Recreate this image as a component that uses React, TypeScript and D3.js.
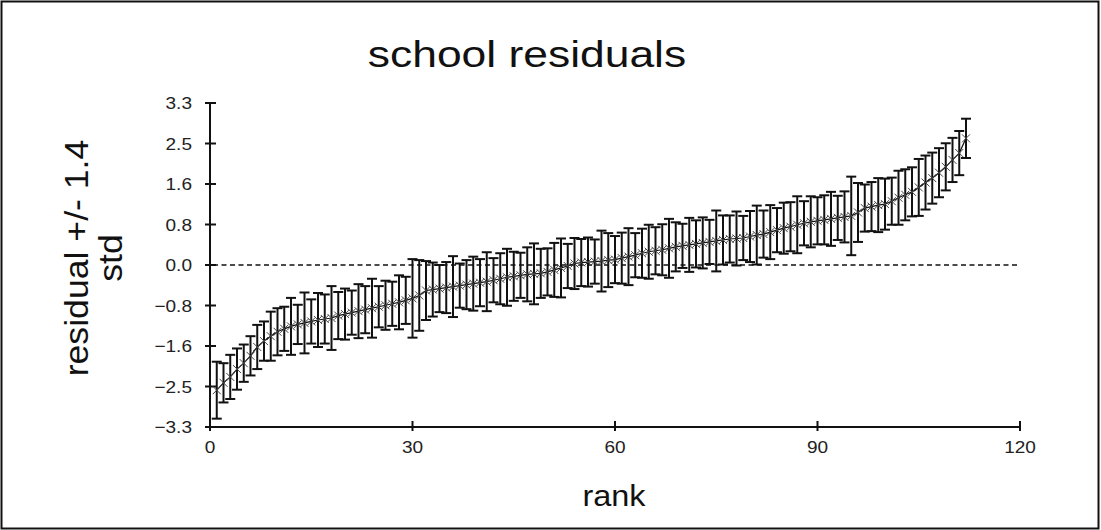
import React, { useEffect, useRef } from 'react';
import * as d3 from 'd3';

// residual per school, in rank order (rank 1..112)
const residuals: number[] = [
  -2.55, -2.40, -2.28, -2.12, -2.00, -1.85, -1.67, -1.55, -1.45, -1.36,
  -1.30, -1.25, -1.21, -1.18, -1.15, -1.12, -1.10, -1.08, -1.03, -1.00,
  -0.97, -0.94, -0.91, -0.88, -0.85, -0.82, -0.79, -0.76, -0.72, -0.68,
  -0.62, -0.52, -0.50, -0.48, -0.46, -0.44, -0.42, -0.40, -0.38, -0.36,
  -0.34, -0.31, -0.28, -0.25, -0.23, -0.21, -0.19, -0.18, -0.17, -0.14,
  -0.10, -0.06, -0.02, 0.03, 0.05, 0.06, 0.07, 0.08, 0.10, 0.11,
  0.14, 0.17, 0.20, 0.24, 0.27, 0.29, 0.31, 0.34, 0.37, 0.39,
  0.41, 0.43, 0.45, 0.47, 0.49, 0.51, 0.53, 0.54, 0.55, 0.58,
  0.61, 0.63, 0.67, 0.71, 0.75, 0.78, 0.82, 0.85, 0.88, 0.90,
  0.92, 0.94, 0.96, 0.98, 1.00, 1.07, 1.16, 1.19, 1.22, 1.24,
  1.30, 1.37, 1.43, 1.49, 1.58, 1.68, 1.77, 1.88, 2.00, 2.14, 2.28, 2.58,
];

// +/- 1.4 std half widths
const halfWidths: number[] = [
  0.58, 0.40, 0.45, 0.42, 0.38, 0.40, 0.45, 0.40, 0.50, 0.48,
  0.45, 0.58, 0.40, 0.62, 0.45, 0.55, 0.50, 0.65, 0.48, 0.52,
  0.45, 0.55, 0.48, 0.60, 0.42, 0.50, 0.45, 0.55, 0.48, 0.80,
  0.72, 0.60, 0.55, 0.48, 0.52, 0.62, 0.45, 0.50, 0.55, 0.48,
  0.60, 0.45, 0.52, 0.58, 0.50, 0.46, 0.55, 0.62, 0.50, 0.48,
  0.55, 0.60, 0.45, 0.52, 0.48, 0.50, 0.45, 0.62, 0.55, 0.48,
  0.52, 0.58, 0.45, 0.50, 0.55, 0.48, 0.52, 0.60, 0.50, 0.45,
  0.55, 0.48, 0.52, 0.45, 0.62, 0.50, 0.48, 0.55, 0.45, 0.52,
  0.60, 0.48, 0.55, 0.45, 0.52, 0.50, 0.58, 0.45, 0.52, 0.48,
  0.50, 0.55, 0.45, 0.52, 0.80, 0.60, 0.48, 0.50, 0.55, 0.52,
  0.48, 0.55, 0.52, 0.50, 0.58, 0.55, 0.52, 0.50, 0.48, 0.45, 0.45, 0.40,
];

const xTicks: number[] = [0, 30, 60, 90, 120];
const yTicks: number[] = [-3.3, -2.475, -1.65, -0.825, 0, 0.825, 1.65, 2.475, 3.3];
const yTickLabels: string[] = ['\u22123.3', '\u22122.5', '\u22121.6', '\u22120.8', '0.0', '0.8', '1.6', '2.5', '3.3'];

function App() {
  const ref = useRef<SVGSVGElement | null>(null);

  useEffect(() => {
    drawChart();
  });

  function drawChart() {
    const width = 1101;
    const height = 530;
    const font = 'Liberation Sans, Arial, sans-serif';

    const svg = d3.select(ref.current);
    svg.selectAll('*').remove();

    svg.append('rect')
      .attr('width', width)
      .attr('height', height)
      .attr('fill', 'white');

    // outer frame
    svg.append('rect')
      .attr('x', 1.5)
      .attr('y', 1.5)
      .attr('width', width - 4)
      .attr('height', height - 3)
      .attr('fill', 'none')
      .attr('stroke', '#111')
      .attr('stroke-width', 2);

    const xScale = d3.scaleLinear().domain([0, 120]).range([210, 1020]);
    const yScale = d3.scaleLinear().domain([-3.3, 3.3]).range([427, 103]);

    const data = residuals.map((v, i) => ({ rank: i + 1, value: v, hw: halfWidths[i] }));

    // title (slightly stretched like the original)
    svg.append('text')
      .text('school residuals')
      .attr('transform', 'translate(527, 67) scale(1.2, 1)')
      .attr('text-anchor', 'middle')
      .style('font-family', font)
      .style('font-size', '37px')
      .attr('fill', '#111');

    // axes
    svg.append('line')
      .attr('x1', xScale(0)).attr('x2', xScale(0))
      .attr('y1', yScale(3.3)).attr('y2', yScale(-3.3))
      .attr('stroke', '#111').attr('stroke-width', 2);
    svg.append('line')
      .attr('x1', xScale(0)).attr('x2', xScale(120))
      .attr('y1', yScale(-3.3)).attr('y2', yScale(-3.3))
      .attr('stroke', '#111').attr('stroke-width', 2);

    svg.append('g')
      .selectAll('line')
      .data(yTicks)
      .enter()
      .append('line')
        .attr('x1', xScale(0) - 5)
        .attr('x2', xScale(0) + 6)
        .attr('y1', (d) => yScale(d))
        .attr('y2', (d) => yScale(d))
        .attr('stroke', '#111')
        .attr('stroke-width', 2);

    svg.append('g')
      .selectAll('text')
      .data(yTicks)
      .enter()
      .append('text')
        .text((d, i) => yTickLabels[i])
        .attr('transform', (d) => `translate(192, ${yScale(d) + 6}) scale(1.12, 1)`)
        .attr('text-anchor', 'end')
        .style('font-family', font)
        .style('font-size', '17px')
        .attr('fill', '#222');

    svg.append('g')
      .selectAll('line')
      .data(xTicks)
      .enter()
      .append('line')
        .attr('x1', (d) => xScale(d))
        .attr('x2', (d) => xScale(d))
        .attr('y1', yScale(-3.3) - 6)
        .attr('y2', yScale(-3.3) + 4)
        .attr('stroke', '#111')
        .attr('stroke-width', 2);

    svg.append('g')
      .selectAll('text')
      .data(xTicks)
      .enter()
      .append('text')
        .text((d) => String(d))
        .attr('transform', (d) => `translate(${xScale(d)}, 453) scale(1.12, 1)`)
        .attr('text-anchor', 'middle')
        .style('font-family', font)
        .style('font-size', '17px')
        .attr('fill', '#222');

    // axis titles
    svg.append('text')
      .text('rank')
      .attr('transform', 'translate(614, 506) scale(1.12, 1)')
      .attr('text-anchor', 'middle')
      .style('font-family', font)
      .style('font-size', '29px')
      .attr('fill', '#111');

    const yLabel = svg.append('text')
      .attr('transform', 'translate(0, 258) rotate(-90) scale(1.08, 1)')
      .attr('text-anchor', 'middle')
      .style('font-family', font)
      .style('font-size', '33px')
      .attr('fill', '#111');
    yLabel.append('tspan').attr('x', 0).attr('y', 88).text('residual +/- 1.4');
    yLabel.append('tspan').attr('x', 0).attr('y', 122).text('std');

    // zero reference line
    svg.append('line')
      .attr('x1', xScale(0) + 3)
      .attr('x2', xScale(120))
      .attr('y1', yScale(0))
      .attr('y2', yScale(0))
      .attr('stroke', '#111')
      .attr('stroke-width', 1.5)
      .attr('stroke-dasharray', '5,3.5');

    // error bars
    const bars = svg.append('g').attr('stroke', '#111').attr('stroke-width', 2);
    bars.selectAll('.stem')
      .data(data)
      .enter()
      .append('line')
        .attr('x1', (d) => xScale(d.rank))
        .attr('x2', (d) => xScale(d.rank))
        .attr('y1', (d) => yScale(d.value + d.hw))
        .attr('y2', (d) => yScale(d.value - d.hw));
    bars.selectAll('.capTop')
      .data(data)
      .enter()
      .append('line')
        .attr('x1', (d) => xScale(d.rank) - 5)
        .attr('x2', (d) => xScale(d.rank) + 5)
        .attr('y1', (d) => yScale(d.value + d.hw))
        .attr('y2', (d) => yScale(d.value + d.hw));
    bars.selectAll('.capBottom')
      .data(data)
      .enter()
      .append('line')
        .attr('x1', (d) => xScale(d.rank) - 5)
        .attr('x2', (d) => xScale(d.rank) + 5)
        .attr('y1', (d) => yScale(d.value - d.hw))
        .attr('y2', (d) => yScale(d.value - d.hw));

    // connecting line
    svg.append('path')
      .datum(data)
      .attr('d', d3.line<any>()
        .x((d) => xScale(d.rank))
        .y((d) => yScale(d.value)))
      .attr('fill', 'none')
      .attr('stroke', '#111')
      .attr('stroke-width', 1.2);

    // x markers
    const s = 4;
    svg.append('g')
      .selectAll('path')
      .data(data)
      .enter()
      .append('path')
        .attr('d', (d) => {
          const x = xScale(d.rank);
          const y = yScale(d.value);
          return `M${x - s},${y - s}L${x + s},${y + s}M${x - s},${y + s}L${x + s},${y - s}`;
        })
        .attr('stroke', '#444')
        .attr('stroke-width', 1)
        .attr('fill', 'none');
  }

  return (
    <svg ref={ref} width={1101} height={530}
      style={{ position: 'absolute', left: 0, top: 0, display: 'block' }} />
  );
}

export default App;
